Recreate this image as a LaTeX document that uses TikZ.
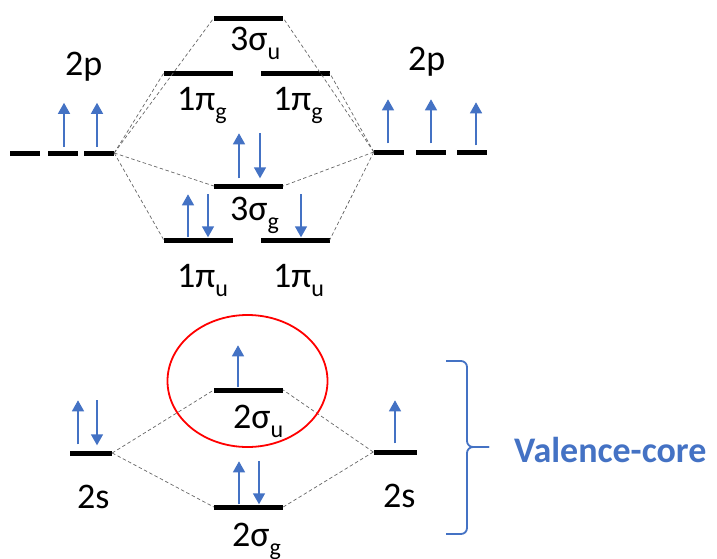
\documentclass[tikz,border=0pt]{standalone}
\usepackage{fontspec}
\setmainfont{Carlito}
\usetikzlibrary{arrows.meta}

\definecolor{spinblue}{HTML}{4472C4}
\newcommand{\orbsub}[1]{\raisebox{-9pt}{\fontsize{24}{24}\selectfont #1}}

\begin{document}
\begin{tikzpicture}[x=1pt, y=-1pt,
  level/.style={fill=black, inner sep=0pt, minimum width=69pt, minimum height=5pt},
  atomlevel/.style={level, minimum width=30pt},
  corr/.style={draw=black!60, line width=0.7pt, dash pattern=on 3.5pt off 2.5pt},
  spinup/.style={spinblue, line width=1.5pt, -{Triangle[width=12pt,length=11pt]}},
  spindown/.style={spinup},
  lbl/.style={anchor=base west, inner sep=0pt, font=\fontsize{36}{40}\selectfont},
]
\useasboundingbox (0,0) rectangle (717,558);

% Niveles atomicos 2p
\node[atomlevel] (L2pa) at (25,153) {};
\node[atomlevel] (L2pb) at (63,153) {};
\node[atomlevel] (L2pc) at (99,153) {};
\node[atomlevel] (R2pa) at (389,152) {};
\node[atomlevel] (R2pb) at (431,152) {};
\node[atomlevel] (R2pc) at (472,152) {};

% Niveles atomicos 2s
\node[atomlevel, minimum width=42pt] (L2s) at (91,453) {};
\node[atomlevel, minimum width=43pt] (R2s) at (395,452) {};

% Orbitales moleculares
\node[level] (s3u) at (248.5,18) {};
\node[level] (pg1) at (198.5,73) {};
\node[level] (pg2) at (295,73) {};
\node[level] (s3g) at (248.5,186) {};
\node[level] (pu1) at (198.5,240) {};
\node[level] (pu2) at (295,240) {};
\node[level] (s2u) at (248.5,390) {};
\node[level] (s2g) at (248.5,507) {};

% Correlaciones
\draw[corr] (L2pc.east) -- (s3u.west);
\draw[corr] (L2pc.east) -- (pg1.west);
\draw[corr] (L2pc.east) -- (s3g.west);
\draw[corr] (L2pc.east) -- (pu1.west);
\draw[corr] (R2pa.west) -- (s3u.east);
\draw[corr] (R2pa.west) -- (pg2.east);
\draw[corr] (R2pa.west) -- (s3g.east);
\draw[corr] (R2pa.west) -- (pu2.east);
\draw[corr] (L2s.east) -- (s2u.west);
\draw[corr] (L2s.east) -- (s2g.west);
\draw[corr] (R2s.west) -- (s2u.east);
\draw[corr] (R2s.west) -- (s2g.east);

% Espines
\draw[spinup] ([xshift=1pt]L2pb.north) ++(0,-3.5) -- ++(0,-44);
\draw[spinup] ([xshift=-2pt]L2pc.north) ++(0,-3.5) -- ++(0,-44);
\draw[spinup] ([xshift=-1pt]R2pa.north) ++(0,-6) -- ++(0,-44);
\draw[spinup] (R2pb.north) ++(0,-6) -- ++(0,-44);
\draw[spinup] ([xshift=4pt]R2pc.north) ++(0,-4) -- ++(0,-43);
\draw[spinup] ([xshift=-9.5pt]s3g.north) ++(0,-5) -- ++(0,-45);
\draw[spindown] ([xshift=11.5pt]s3g.north) ++(0,-50) -- ++(0,45);
\draw[spinup] ([xshift=-10.5pt]pu1.north) -- ++(0,-43);
\draw[spindown] ([xshift=9.5pt]pu1.north) ++(0,-43) -- ++(0,43);
\draw[spindown] ([xshift=6pt]pu2.north) ++(0,-43) -- ++(0,43);
\draw[spinup] ([xshift=-13pt]L2s.north) ++(0,-6) -- ++(0,-44);
\draw[spindown] ([xshift=6pt]L2s.north) ++(0,-50) -- ++(0,45);
\draw[spinup] ([xshift=-10.5pt]s2u.north) -- ++(0,-42);
\draw[spinup] ([xshift=-9.5pt]s2g.north) -- ++(0,-43);
\draw[spindown] ([xshift=10.5pt]s2g.north) ++(0,-43) -- ++(0,43);
\draw[spinup] (R2s.north) ++(0,-6) -- ++(0,-43);

% Etiquetas
\node[lbl] (lab2pL) at (65,75) {2p};
\node[lbl] (lab2pR) at (408,70) {2p};
\node[lbl] (lab3su) at (230,50) {3σ\orbsub{u}};
\node[lbl] (lab1pgL) at (177,110) {1π\orbsub{g}};
\node[lbl] (lab1pgR) at (273,110) {1π\orbsub{g}};
\node[lbl] (lab3sg) at (230,220) {3σ\orbsub{g}};
\node[lbl] (lab1puL) at (177,287) {1π\orbsub{u}};
\node[lbl] (lab1puR) at (273,287) {1π\orbsub{u}};
\node[lbl] (lab2sL) at (77,508) {2s};
\node[lbl] (lab2su) at (233,428) {2σ\orbsub{u}};
\node[lbl] (lab2sg) at (232,546) {2σ\orbsub{g}};
\node[lbl] (lab2sR) at (383,507) {2s};

% Orbital resaltado
\draw[red, line width=1.8pt] ([xshift=-1pt,yshift=9pt]s2u.center) ellipse [x radius=80, y radius=66];

% Llave de valencia
\draw[spinblue, line width=1.8pt, rounded corners=6pt] (446,361) -- (467,361) -- (467,447) -- (489,447);
\draw[spinblue, line width=1.8pt, rounded corners=6pt] (446,534) -- (467,534) -- (467,447) -- (489,447);
\node[lbl, font=\fontsize{36}{40}\selectfont\bfseries, text=spinblue] (valence) at (514,462) {Valence-core};

\end{tikzpicture}
\end{document}
